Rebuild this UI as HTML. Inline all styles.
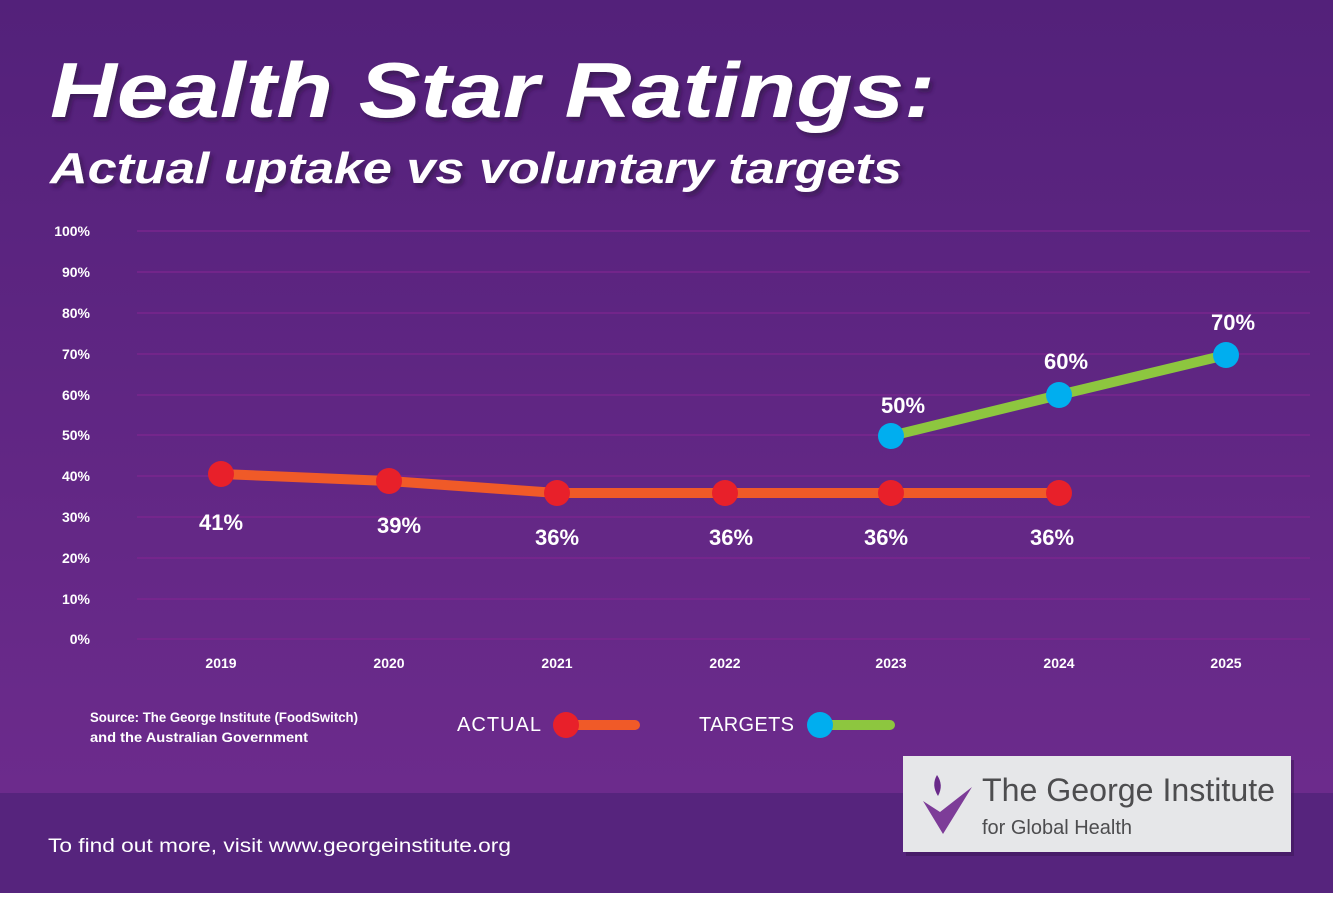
<!DOCTYPE html>
<html><head><meta charset="utf-8"><style>
body{margin:0;width:1333px;height:893px;overflow:hidden;font-family:"Liberation Sans",sans-serif;}
</style></head><body>
<svg width="1333" height="893" xmlns="http://www.w3.org/2000/svg">
<defs>
<linearGradient id="bg" x1="0" y1="0" x2="0" y2="1">
<stop offset="0" stop-color="#53217a"/><stop offset="1" stop-color="#6c2b8c"/></linearGradient>
<filter id="sh"><feDropShadow dx="3" dy="4" stdDeviation="2" flood-color="#2a0a40" flood-opacity="0.6"/></filter>
</defs>
<rect width="1333" height="793" fill="url(#bg)"/>
<rect y="793" width="1333" height="100" fill="#56247d"/>
<g font-weight="bold" font-style="italic" fill="#fff" filter="url(#sh)">
<text x="50" y="117" font-size="78" textLength="885" lengthAdjust="spacingAndGlyphs">Health Star Ratings:</text>
<text x="50" y="183" font-size="44" textLength="852" lengthAdjust="spacingAndGlyphs">Actual uptake vs voluntary targets</text>
</g>
<g stroke="#7f2690" stroke-width="1.2">
<line x1="137" x2="1310" y1="231" y2="231"/><line x1="137" x2="1310" y1="272" y2="272"/>
<line x1="137" x2="1310" y1="313" y2="313"/><line x1="137" x2="1310" y1="354" y2="354"/>
<line x1="137" x2="1310" y1="395" y2="395"/><line x1="137" x2="1310" y1="435" y2="435"/>
<line x1="137" x2="1310" y1="476" y2="476"/><line x1="137" x2="1310" y1="517" y2="517"/>
<line x1="137" x2="1310" y1="558" y2="558"/><line x1="137" x2="1310" y1="599" y2="599"/>
<line x1="137" x2="1310" y1="639" y2="639"/>
</g>
<g fill="#fff" font-weight="bold" font-size="14" text-anchor="end">
<text x="90" y="236">100%</text><text x="90" y="277">90%</text><text x="90" y="318">80%</text>
<text x="90" y="359">70%</text><text x="90" y="400">60%</text><text x="90" y="440">50%</text>
<text x="90" y="481">40%</text><text x="90" y="522">30%</text><text x="90" y="563">20%</text>
<text x="90" y="604">10%</text><text x="90" y="644">0%</text>
</g>
<g fill="#fff" font-weight="bold" font-size="14" text-anchor="middle">
<text x="221" y="668">2019</text><text x="389" y="668">2020</text><text x="557" y="668">2021</text>
<text x="725" y="668">2022</text><text x="891" y="668">2023</text><text x="1059" y="668">2024</text><text x="1226" y="668">2025</text>
</g>
<polyline points="221,474 389,481 557,493 725,493 891,493 1059,493" fill="none" stroke="#f05a28" stroke-width="10" stroke-linejoin="round"/>
<polyline points="891,436 1059,395 1226,355" fill="none" stroke="#8dc63f" stroke-width="10"/>
<g fill="#e8202a">
<circle cx="221" cy="474" r="13"/><circle cx="389" cy="481" r="13"/><circle cx="557" cy="493" r="13"/>
<circle cx="725" cy="493" r="13"/><circle cx="891" cy="493" r="13"/><circle cx="1059" cy="493" r="13"/>
</g>
<g fill="#00aeef"><circle cx="891" cy="436" r="13"/><circle cx="1059" cy="395" r="13"/><circle cx="1226" cy="355" r="13"/></g>
<g fill="#fff" font-weight="bold" font-size="22" text-anchor="middle">
<text x="221" y="530">41%</text><text x="399" y="533">39%</text><text x="557" y="545">36%</text>
<text x="731" y="545">36%</text><text x="886" y="545">36%</text><text x="1052" y="545">36%</text>
<text x="903" y="413">50%</text><text x="1066" y="369">60%</text><text x="1233" y="330">70%</text>
</g>
<g fill="#fff" font-weight="bold" font-size="14">
<text x="90" y="722" textLength="268" lengthAdjust="spacingAndGlyphs">Source: The George Institute (FoodSwitch)</text>
<text x="90" y="742" textLength="218" lengthAdjust="spacingAndGlyphs">and the Australian Government</text>
</g>
<g fill="#fff" font-size="20">
<text x="457" y="731" textLength="84">ACTUAL</text><text x="699" y="731" textLength="95">TARGETS</text>
</g>
<line x1="566" x2="635" y1="725" y2="725" stroke="#f05a28" stroke-width="10" stroke-linecap="round"/>
<circle cx="566" cy="725" r="13" fill="#e8202a"/>
<line x1="820" x2="890" y1="725" y2="725" stroke="#8dc63f" stroke-width="10" stroke-linecap="round"/>
<circle cx="820" cy="725" r="13" fill="#00aeef"/>
<text x="48" y="852" fill="#fff" font-size="19" textLength="463" lengthAdjust="spacingAndGlyphs">To find out more, visit www.georgeinstitute.org</text>
<rect x="906" y="760" width="388" height="96" fill="#3a1456" opacity="0.5"/>
<rect x="903" y="756" width="388" height="96" fill="#e6e7e9"/>
<path d="M923 801 L940 812 L972 787 L943 834 Z" fill="#7d3c98"/>
<path d="M937 775 Q944 785 938 796 Q931 785 937 775 Z" fill="#6a2a8a"/>
<text x="982" y="801" font-size="32" fill="#4d4d4f" textLength="293" lengthAdjust="spacingAndGlyphs">The George Institute</text>
<text x="982" y="834" font-size="20" fill="#4d4d4f" textLength="150" lengthAdjust="spacingAndGlyphs">for Global Health</text>
</svg>
</body></html>
